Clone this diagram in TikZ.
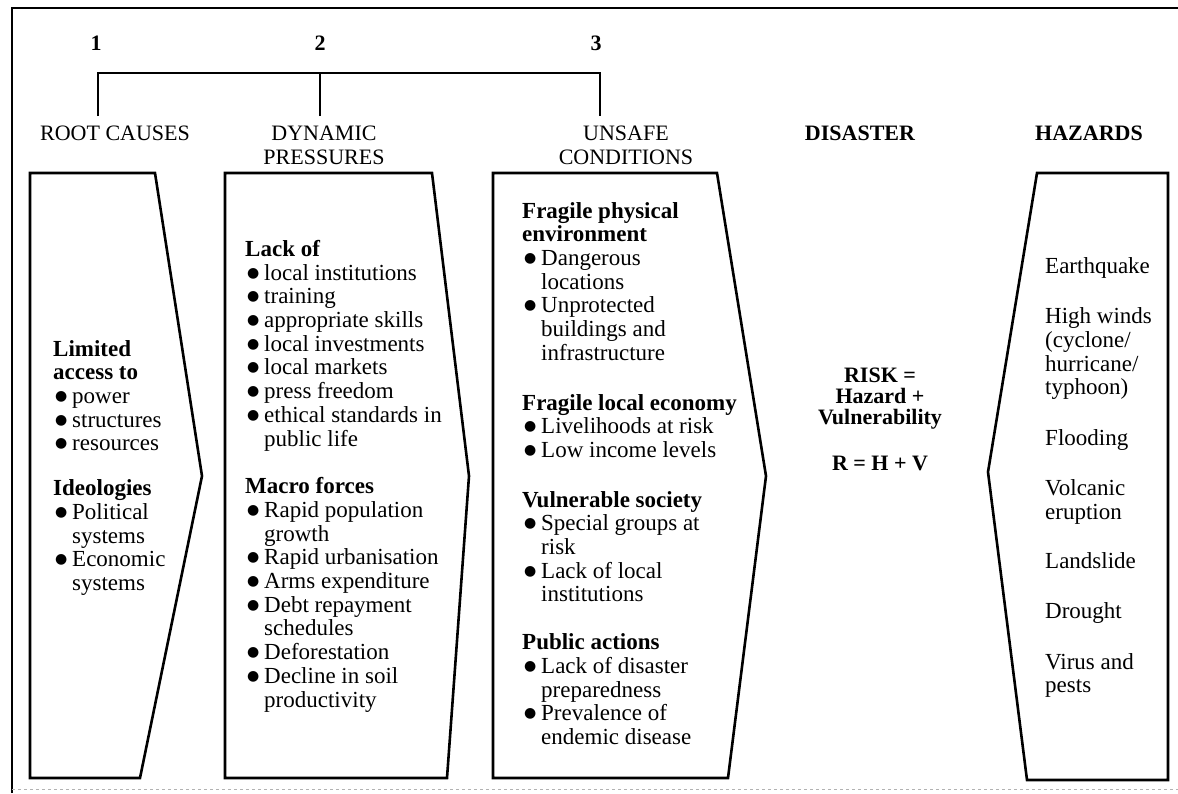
\documentclass[tikz,border=0pt]{standalone}
\usepackage{fontspec}
\setmainfont{Liberation Serif}
\newfontfamily\symfont{DejaVu Sans}
\newcommand\bul{\hspace*{2pt}\makebox[17pt][l]{\raisebox{3pt}{\symfont\fontsize{14}{14}\selectfont ●}}}
\newcommand\ind{\hspace*{19pt}}

\begin{document}
\begin{tikzpicture}[x=1pt,y=-1pt,
    panel/.style={line width=2.6pt,line join=miter},
    txt/.style={anchor=north west,inner sep=0pt,align=left,font=\fontsize{23}{23.7}\selectfont},
    head/.style={anchor=north,inner sep=0pt,align=center,font=\fontsize{22}{24}\selectfont},
    num/.style={inner sep=0pt,font=\bfseries\fontsize{22}{22}\selectfont}]
    \useasboundingbox (0,0) rectangle (1178,793);
    % frame
    \draw[line width=1.5pt] (12,793) -- (12,8) -- (1178,8);
    \draw[gray!60,dashed] (12,789) -- (1178,789);
    % numbers and bracket
    \node[num] (n1) at (96,43) {1};
    \node[num] (n2) at (320,43) {2};
    \node[num] (n3) at (596,43) {3};
    \coordinate (b1) at (98,116);
    \coordinate (b2) at (320,116);
    \coordinate (b3) at (600,116);
    \draw[line width=2pt] (b1) |- (b3 |- 0,73) -- (b3);
    \draw[line width=2pt] (b2) -- (b2 |- 0,73);
    % headers
    \node[head] (rc) at (115,126) {ROOT CAUSES};
    \node[head] (dp) at (324,126) {DYNAMIC\\PRESSURES};
    \node[head] (uc) at (626,126) {UNSAFE\\CONDITIONS};
    \node[head,font=\bfseries\fontsize{22}{24}\selectfont] (ds) at (860,126) {DISASTER};
    \node[head,font=\bfseries\fontsize{22}{24}\selectfont] (hz) at (1089,126) {HAZARDS};
    % panels
    \draw[panel] (30,173) -- (155,173) -- (202,476) -- (140,778) -- (30,778) -- cycle;
    \draw[panel] (225,173) -- (432,173) -- (469,476) -- (447,778) -- (225,778) -- cycle;
    \draw[panel] (493,173) -- (717,173) -- (766,476) -- (728,778) -- (493,778) -- cycle;
    \draw[panel] (1037,173) -- (1168,173) -- (1168,780) -- (1027,780) -- (988,472) -- cycle;
    % root causes
    \node[txt] (rctext) at (53,340) {\textbf{Limited}\\
        \textbf{access to}\\
        \bul power\\
        \bul structures\\
        \bul resources\\[21pt]
        \textbf{Ideologies}\\
        \bul Political\\
        \ind systems\\
        \bul Economic\\
        \ind systems};
    % dynamic pressures
    \node[txt] (dptext) at (245,240) {\textbf{Lack of}\\
        \bul local institutions\\
        \bul training\\
        \bul appropriate skills\\
        \bul local investments\\
        \bul local markets\\
        \bul press freedom\\
        \bul ethical standards in\\
        \ind public life\\[24pt]
        \textbf{Macro forces}\\
        \bul Rapid population\\
        \ind growth\\
        \bul Rapid urbanisation\\
        \bul Arms expenditure\\
        \bul Debt repayment\\
        \ind schedules\\
        \bul Deforestation\\
        \bul Decline in soil\\
        \ind productivity};
    % unsafe conditions
    \node[txt] (uctext) at (522,202) {\textbf{Fragile physical}\\
        \textbf{environment}\\
        \bul Dangerous\\
        \ind locations\\
        \bul Unprotected\\
        \ind buildings and\\
        \ind infrastructure\\[26pt]
        \textbf{Fragile local economy}\\
        \bul Livelihoods at risk\\
        \bul Low income levels\\[26pt]
        \textbf{Vulnerable society}\\
        \bul Special groups at\\
        \ind risk\\
        \bul Lack of local\\
        \ind institutions\\[24pt]
        \textbf{Public actions}\\
        \bul Lack of disaster\\
        \ind preparedness\\
        \bul Prevalence of\\
        \ind endemic disease};
    % disaster
    \node[head,font=\bfseries\fontsize{22}{21}\selectfont] (risk) at (880,368) {RISK =\\
        Hazard +\\
        Vulnerability\\[25pt]
        R = H + V};
    % hazards
    \node[txt] (hztext) at (1045,257) {Earthquake\\[27pt]
        High winds\\
        (cyclone/\\
        hurricane/\\
        typhoon)\\[27pt]
        Flooding\\[26pt]
        Volcanic\\
        eruption\\[26pt]
        Landslide\\[26pt]
        Drought\\[27pt]
        Virus and\\
        pests};
\end{tikzpicture}
\end{document}
